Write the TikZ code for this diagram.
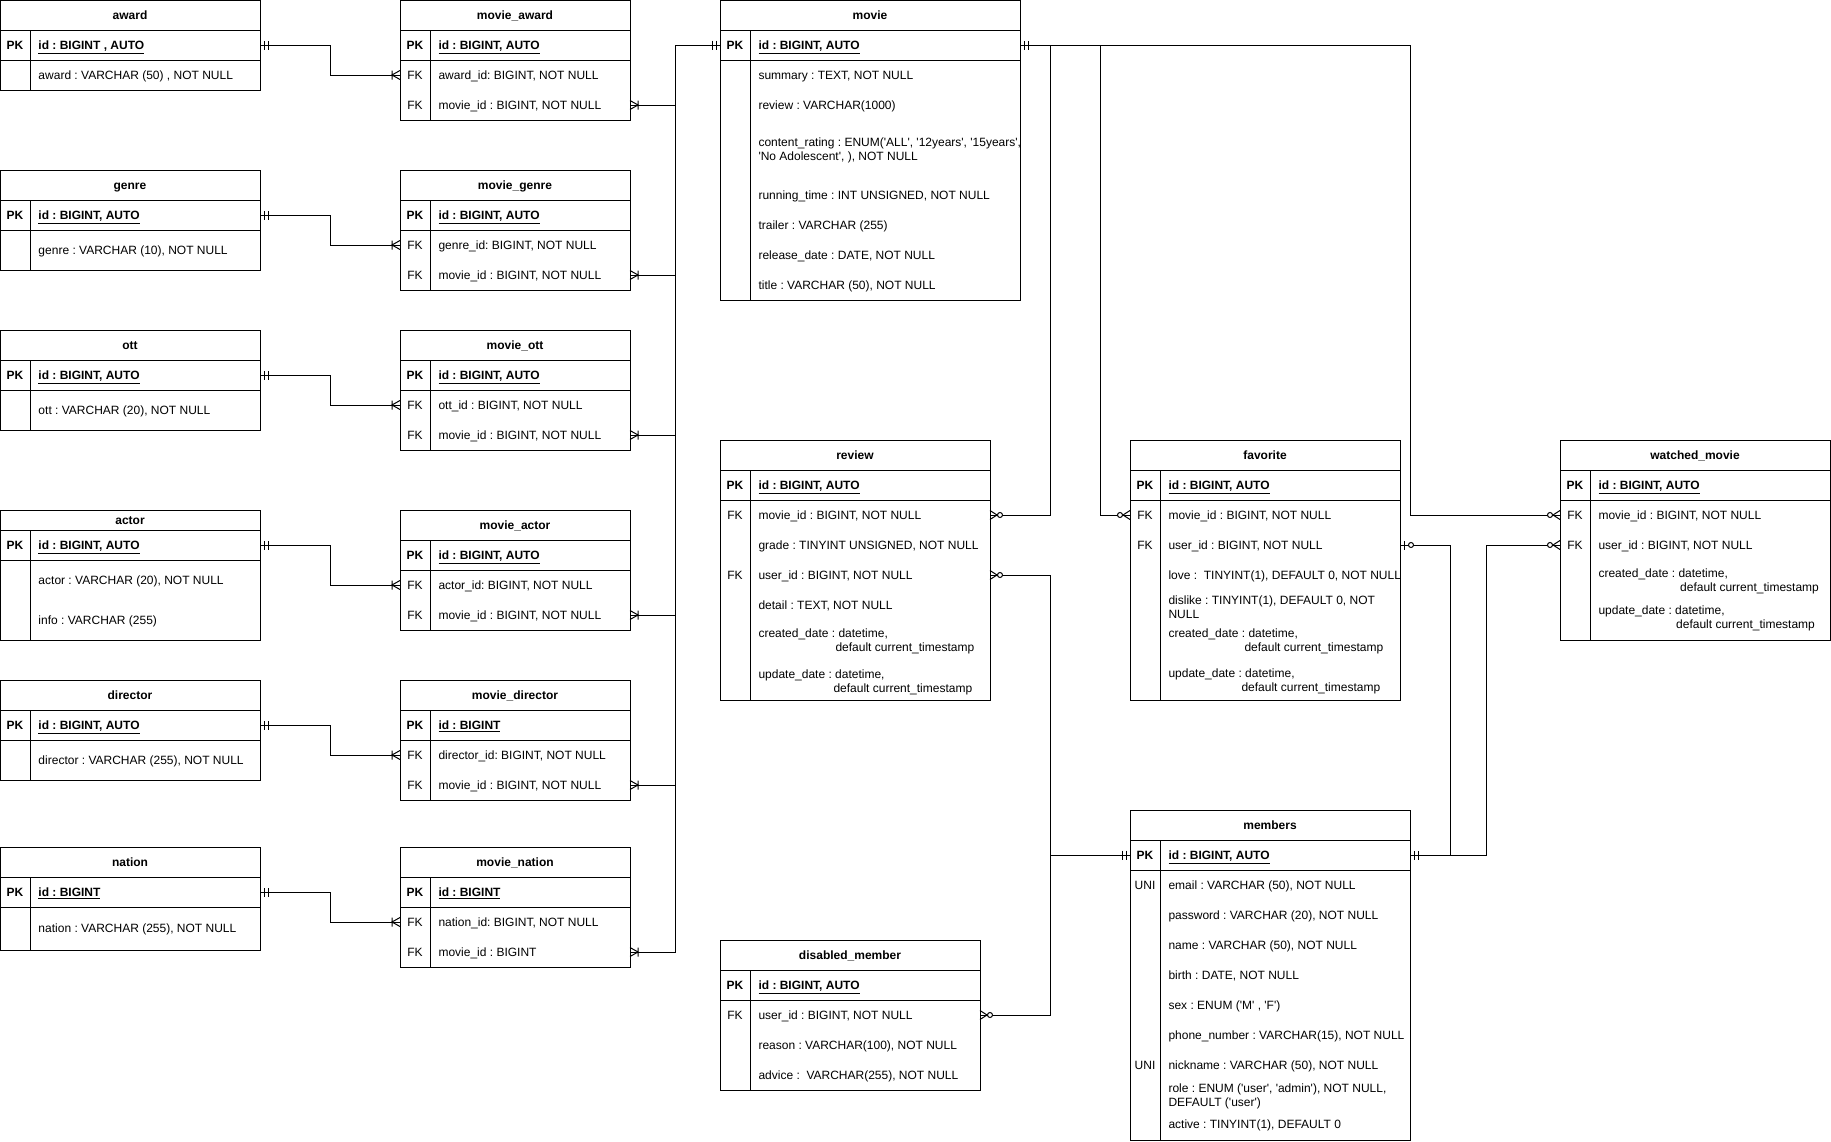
\documentclass[tikz,border=0pt]{standalone}
\usepackage{fontspec}
\newfontfamily\erfont{Liberation Sans}
\usepackage{tikz}
\newcommand{\erfs}{\erfont\fontsize{9}{10.5}\selectfont\frenchspacing}
\tikzset{every picture/.style={line width=0.75pt}}
\tikzset{
  ttl/.style={font=\erfs\bfseries, inner sep=0pt, text height=6.45pt, text depth=0pt},
  key/.style={inner sep=0pt, text height=6.45pt, text depth=0pt},
  fld/.style={anchor=west, inner sep=0pt, text height=6.45pt, text depth=0pt},
  fldm/.style={anchor=west, inner sep=0pt, align=left},
  mandone/.pic={\draw (4,-4.5) -- (4,4.5) (8,-4.5) -- (8,4.5);},
  onemany/.pic={\draw (0,-4.5) -- (8,0) -- (0,4.5) (8,-4.5) -- (8,4.5);},
  zeromany/.pic={\draw (0,-4.5) -- (7,0) -- (0,4.5); \draw [fill=white] (10,0) circle (2.5);},
  zeroone/.pic={\draw (4,-4.5) -- (4,4.5); \draw [fill=white] (11,0) circle (2.5);}
}

\begin{document}
\begin{tikzpicture}[x=0.75pt,y=0.75pt,yscale=-1,xscale=1,font=\erfs]
      \fill [white] (0,0) rectangle (1831,1142);
      \useasboundingbox (0,0) rectangle (1831,1142);
      % left tables
      \draw (0,0) rectangle (260,90);
      \draw (0,30) -- (260,30) (0,60) -- (260,60) (30,30) -- (30,90);
      \draw (0,170) rectangle (260,270);
      \draw (0,200) -- (260,200) (0,230) -- (260,230) (30,200) -- (30,270);
      \draw (0,330) rectangle (260,430);
      \draw (0,360) -- (260,360) (0,390) -- (260,390) (30,360) -- (30,430);
      \draw (0,510) rectangle (260,640);
      \draw (0,530) -- (260,530) (0,560) -- (260,560) (30,530) -- (30,640);
      \draw (0,680) rectangle (260,780);
      \draw (0,710) -- (260,710) (0,740) -- (260,740) (30,710) -- (30,780);
      \draw (0,847) rectangle (260,950);
      \draw (0,877) -- (260,877) (0,907) -- (260,907) (30,877) -- (30,950);
      % join tables
      \draw (400,0) rectangle (630,120);
      \draw (400,30) -- (630,30) (400,60) -- (630,60) (430,30) -- (430,120);
      \draw (400,170) rectangle (630,290);
      \draw (400,200) -- (630,200) (400,230) -- (630,230) (430,200) -- (430,290);
      \draw (400,330) rectangle (630,450);
      \draw (400,360) -- (630,360) (400,390) -- (630,390) (430,360) -- (430,450);
      \draw (400,510) rectangle (630,630);
      \draw (400,540) -- (630,540) (400,570) -- (630,570) (430,540) -- (430,630);
      \draw (400,680) rectangle (630,800);
      \draw (400,710) -- (630,710) (400,740) -- (630,740) (430,710) -- (430,800);
      \draw (400,847) rectangle (630,967);
      \draw (400,877) -- (630,877) (400,907) -- (630,907) (430,877) -- (430,967);
      % movie, review, disabled_member
      \draw (720,0) rectangle (1020,300);
      \draw (720,30) -- (1020,30) (720,60) -- (1020,60) (750,30) -- (750,300);
      \draw (720,440) rectangle (990,700);
      \draw (720,470) -- (990,470) (720,500) -- (990,500) (750,470) -- (750,700);
      \draw (720,940) rectangle (980,1090);
      \draw (720,970) -- (980,970) (720,1000) -- (980,1000) (750,970) -- (750,1090);
      % favorite, members, watched_movie
      \draw (1130,440) rectangle (1400,700);
      \draw (1130,470) -- (1400,470) (1130,500) -- (1400,500) (1160,470) -- (1160,700);
      \draw (1130,810) rectangle (1410,1140);
      \draw (1130,840) -- (1410,840) (1130,870) -- (1410,870) (1160,840) -- (1160,1140);
      \draw (1560,440) rectangle (1830,640);
      \draw (1560,470) -- (1830,470) (1560,500) -- (1830,500) (1590,470) -- (1590,640);

      % connection points
      \coordinate (awardPK) at (260,45);
      \coordinate (maAward) at (400,75);
      \coordinate (maMovie) at (630,105);
      \coordinate (genrePK) at (260,215);
      \coordinate (mgGenre) at (400,245);
      \coordinate (mgMovie) at (630,275);
      \coordinate (ottPK) at (260,375);
      \coordinate (moOtt) at (400,405);
      \coordinate (moMovie) at (630,435);
      \coordinate (actorPK) at (260,545);
      \coordinate (mactActor) at (400,585);
      \coordinate (mactMovie) at (630,615);
      \coordinate (directorPK) at (260,725);
      \coordinate (mdDirector) at (400,755);
      \coordinate (mdMovie) at (630,785);
      \coordinate (nationPK) at (260,892);
      \coordinate (mnNation) at (400,922);
      \coordinate (mnMovie) at (630,952);
      \coordinate (movieL) at (720,45);
      \coordinate (movieR) at (1020,45);
      \coordinate (rvMovie) at (990,515);
      \coordinate (rvUser) at (990,575);
      \coordinate (fvMovie) at (1130,515);
      \coordinate (fvUser) at (1400,545);
      \coordinate (wmMovie) at (1560,515);
      \coordinate (wmUser) at (1560,545);
      \coordinate (mbL) at (1130,855);
      \coordinate (mbR) at (1410,855);
      \coordinate (dmUser) at (980,1015);

      % connectors
      \draw (awardPK) -- ++(70,0) |- (maAward);
      \draw (genrePK) -- ++(70,0) |- (mgGenre);
      \draw (ottPK) -- ++(70,0) |- (moOtt);
      \draw (actorPK) -- ++(70,0) |- (mactActor);
      \draw (directorPK) -- ++(70,0) |- (mdDirector);
      \draw (nationPK) -- ++(70,0) |- (mnNation);
      \draw (maMovie) -- ++(45,0) |- (movieL);
      \draw (mgMovie) -- ++(45,0) |- (movieL);
      \draw (moMovie) -- ++(45,0) |- (movieL);
      \draw (mactMovie) -- ++(45,0) |- (movieL);
      \draw (mdMovie) -- ++(45,0) |- (movieL);
      \draw (mnMovie) -- ++(45,0) |- (movieL);
      \draw (movieR) -- ++(30,0) |- (rvMovie);
      \draw (movieR) -- ++(80,0) |- (fvMovie);
      \draw (movieR) -- ++(390,0) |- (wmMovie);
      \draw (mbL) -- ++(-80,0) |- (rvUser);
      \draw (mbL) -- ++(-80,0) |- (dmUser);
      \draw (mbR) -- ++(40,0) |- (fvUser);
      \draw (mbR) -- ++(76,0) |- (wmUser);

      % end marks
      \pic at (awardPK) {mandone};
      \pic at (genrePK) {mandone};
      \pic at (ottPK) {mandone};
      \pic at (actorPK) {mandone};
      \pic at (directorPK) {mandone};
      \pic at (nationPK) {mandone};
      \pic [rotate=180] at (maAward) {onemany};
      \pic [rotate=180] at (mgGenre) {onemany};
      \pic [rotate=180] at (moOtt) {onemany};
      \pic [rotate=180] at (mactActor) {onemany};
      \pic [rotate=180] at (mdDirector) {onemany};
      \pic [rotate=180] at (mnNation) {onemany};
      \pic at (maMovie) {onemany};
      \pic at (mgMovie) {onemany};
      \pic at (moMovie) {onemany};
      \pic at (mactMovie) {onemany};
      \pic at (mdMovie) {onemany};
      \pic at (mnMovie) {onemany};
      \pic [rotate=180] at (movieL) {mandone};
      \pic at (movieR) {mandone};
      \pic at (rvMovie) {zeromany};
      \pic at (rvUser) {zeromany};
      \pic [rotate=180] at (fvMovie) {zeromany};
      \pic at (fvUser) {zeroone};
      \pic [rotate=180] at (wmMovie) {zeromany};
      \pic [rotate=180] at (wmUser) {zeromany};
      \pic [rotate=180] at (mbL) {mandone};
      \pic at (mbR) {mandone};
      \pic at (dmUser) {zeromany};

      % award
      \node [ttl] (awardT) at (130,15) {award};
      \node [key] (awardK1) at (15,45) {\textbf{PK}};
      \node [fld] (awardF1) at (38,45) {\underline{\textbf{id : BIGINT , AUTO}}};
      \node [fld] (awardF2) at (38,75) {award : VARCHAR (50) , NOT NULL};
      % genre
      \node [ttl] (genreT) at (130,185) {genre};
      \node [key] (genreK1) at (15,215) {\textbf{PK}};
      \node [fld] (genreF1) at (38,215) {\underline{\textbf{id : BIGINT, AUTO}}};
      \node [fld] (genreF2) at (38,250) {genre : VARCHAR (10), NOT NULL};
      % ott
      \node [ttl] (ottT) at (130,345) {ott};
      \node [key] (ottK1) at (15,375) {\textbf{PK}};
      \node [fld] (ottF1) at (38,375) {\underline{\textbf{id : BIGINT, AUTO}}};
      \node [fld] (ottF2) at (38,410) {ott : VARCHAR (20), NOT NULL};
      % actor
      \node [ttl] (actorT) at (130,520) {actor};
      \node [key] (actorK1) at (15,545) {\textbf{PK}};
      \node [fld] (actorF1) at (38,545) {\underline{\textbf{id : BIGINT, AUTO}}};
      \node [fld] (actorF2) at (38,580) {actor : VARCHAR (20), NOT NULL};
      \node [fld] (actorF3) at (38,620) {info : VARCHAR (255)};
      % director
      \node [ttl] (directorT) at (130,695) {director};
      \node [key] (directorK1) at (15,725) {\textbf{PK}};
      \node [fld] (directorF1) at (38,725) {\underline{\textbf{id : BIGINT, AUTO}}};
      \node [fld] (directorF2) at (38,760) {director : VARCHAR (255), NOT NULL};
      % nation
      \node [ttl] (nationT) at (130,862) {nation};
      \node [key] (nationK1) at (15,892) {\textbf{PK}};
      \node [fld] (nationF1) at (38,892) {\underline{\textbf{id : BIGINT}}};
      \node [fld] (nationF2) at (38,928) {nation : VARCHAR (255), NOT NULL};

      % movie_award
      \node [ttl] (maT) at (515,15) {movie\_award};
      \node [key] (maK1) at (415,45) {\textbf{PK}};
      \node [fld] (maF1) at (438,45) {\underline{\textbf{id : BIGINT, AUTO}}};
      \node [key] (maK2) at (415,75) {FK};
      \node [fld] (maF2) at (438,75) {award\_id: BIGINT, NOT NULL};
      \node [key] (maK3) at (415,105) {FK};
      \node [fld] (maF3) at (438,105) {movie\_id : BIGINT, NOT NULL};
      % movie_genre
      \node [ttl] (mgT) at (515,185) {movie\_genre};
      \node [key] (mgK1) at (415,215) {\textbf{PK}};
      \node [fld] (mgF1) at (438,215) {\underline{\textbf{id : BIGINT, AUTO}}};
      \node [key] (mgK2) at (415,245) {FK};
      \node [fld] (mgF2) at (438,245) {genre\_id: BIGINT, NOT NULL};
      \node [key] (mgK3) at (415,275) {FK};
      \node [fld] (mgF3) at (438,275) {movie\_id : BIGINT, NOT NULL};
      % movie_ott
      \node [ttl] (moT) at (515,345) {movie\_ott};
      \node [key] (moK1) at (415,375) {\textbf{PK}};
      \node [fld] (moF1) at (438,375) {\underline{\textbf{id : BIGINT, AUTO}}};
      \node [key] (moK2) at (415,405) {FK};
      \node [fld] (moF2) at (438,405) {ott\_id : BIGINT, NOT NULL};
      \node [key] (moK3) at (415,435) {FK};
      \node [fld] (moF3) at (438,435) {movie\_id : BIGINT, NOT NULL};
      % movie_actor
      \node [ttl] (mactT) at (515,525) {movie\_actor};
      \node [key] (mactK1) at (415,555) {\textbf{PK}};
      \node [fld] (mactF1) at (438,555) {\underline{\textbf{id : BIGINT, AUTO}}};
      \node [key] (mactK2) at (415,585) {FK};
      \node [fld] (mactF2) at (438,585) {actor\_id: BIGINT, NOT NULL};
      \node [key] (mactK3) at (415,615) {FK};
      \node [fld] (mactF3) at (438,615) {movie\_id : BIGINT, NOT NULL};
      % movie_director
      \node [ttl] (mdT) at (515,695) {movie\_director};
      \node [key] (mdK1) at (415,725) {\textbf{PK}};
      \node [fld] (mdF1) at (438,725) {\underline{\textbf{id : BIGINT}}};
      \node [key] (mdK2) at (415,755) {FK};
      \node [fld] (mdF2) at (438,755) {director\_id: BIGINT, NOT NULL};
      \node [key] (mdK3) at (415,785) {FK};
      \node [fld] (mdF3) at (438,785) {movie\_id : BIGINT, NOT NULL};
      % movie_nation
      \node [ttl] (mnT) at (515,862) {movie\_nation};
      \node [key] (mnK1) at (415,892) {\textbf{PK}};
      \node [fld] (mnF1) at (438,892) {\underline{\textbf{id : BIGINT}}};
      \node [key] (mnK2) at (415,922) {FK};
      \node [fld] (mnF2) at (438,922) {nation\_id: BIGINT, NOT NULL};
      \node [key] (mnK3) at (415,952) {FK};
      \node [fld] (mnF3) at (438,952) {movie\_id : BIGINT};

      % movie
      \node [ttl] (movieT) at (870,15) {movie};
      \node [key] (movieK1) at (735,45) {\textbf{PK}};
      \node [fld] (movieF1) at (758,45) {\underline{\textbf{id : BIGINT, AUTO}}};
      \node [fld] (movieF2) at (758,75) {summary : TEXT, NOT NULL};
      \node [fld] (movieF3) at (758,105) {review : VARCHAR(1000)};
      \node [fldm] (movieF4) at (758,150) {content\_rating : ENUM('ALL', '12years', '15years',\\'No Adolescent', ), NOT NULL};
      \node [fld] (movieF5) at (758,195) {running\_time : INT UNSIGNED, NOT NULL};
      \node [fld] (movieF6) at (758,225) {trailer : VARCHAR (255)};
      \node [fld] (movieF7) at (758,255) {release\_date : DATE, NOT NULL};
      \node [fld] (movieF8) at (758,285) {title : VARCHAR (50), NOT NULL};
      % review
      \node [ttl] (reviewT) at (855,455) {review};
      \node [key] (reviewK1) at (735,485) {\textbf{PK}};
      \node [fld] (reviewF1) at (758,485) {\underline{\textbf{id : BIGINT, AUTO}}};
      \node [key] (reviewK2) at (735,515) {FK};
      \node [fld] (reviewF2) at (758,515) {movie\_id : BIGINT, NOT NULL};
      \node [fld] (reviewF3) at (758,545) {grade : TINYINT UNSIGNED, NOT NULL};
      \node [key] (reviewK4) at (735,575) {FK};
      \node [fld] (reviewF4) at (758,575) {user\_id : BIGINT, NOT NULL};
      \node [fld] (reviewF5) at (758,605) {detail : TEXT, NOT NULL};
      \node [fldm] (reviewF6) at (758,641) {created\_date : datetime,\\\hspace*{57.75pt}default current\_timestamp};
      \node [fldm] (reviewF7) at (758,682) {update\_date : datetime,\\\hspace*{56.25pt}default current\_timestamp};
      % disabled_member
      \node [ttl] (dmT) at (850,955) {disabled\_member};
      \node [key] (dmK1) at (735,985) {\textbf{PK}};
      \node [fld] (dmF1) at (758,985) {\underline{\textbf{id : BIGINT, AUTO}}};
      \node [key] (dmK2) at (735,1015) {FK};
      \node [fld] (dmF2) at (758,1015) {user\_id : BIGINT, NOT NULL};
      \node [fld] (dmF3) at (758,1045) {reason : VARCHAR(100), NOT NULL};
      \node [fld] (dmF4) at (758,1075) {advice :\ \ VARCHAR(255), NOT NULL};
      % favorite
      \node [ttl] (favT) at (1265,455) {favorite};
      \node [key] (favK1) at (1145,485) {\textbf{PK}};
      \node [fld] (favF1) at (1168,485) {\underline{\textbf{id : BIGINT, AUTO}}};
      \node [key] (favK2) at (1145,515) {FK};
      \node [fld] (favF2) at (1168,515) {movie\_id : BIGINT, NOT NULL};
      \node [key] (favK3) at (1145,545) {FK};
      \node [fld] (favF3) at (1168,545) {user\_id : BIGINT, NOT NULL};
      \node [fld] (favF4) at (1168,575) {love :\ \ TINYINT(1), DEFAULT 0, NOT NULL};
      \node [fldm] (favF5) at (1168,607) {dislike : TINYINT(1), DEFAULT 0, NOT\\NULL};
      \node [fldm] (favF6) at (1168,641) {created\_date : datetime,\\\hspace*{57pt}default current\_timestamp};
      \node [fldm] (favF7) at (1168,681) {update\_date : datetime,\\\hspace*{54.75pt}default current\_timestamp};
      % watched_movie
      \node [ttl] (wmT) at (1695,455) {watched\_movie};
      \node [key] (wmK1) at (1575,485) {\textbf{PK}};
      \node [fld] (wmF1) at (1598,485) {\underline{\textbf{id : BIGINT, AUTO}}};
      \node [key] (wmK2) at (1575,515) {FK};
      \node [fld] (wmF2) at (1598,515) {movie\_id : BIGINT, NOT NULL};
      \node [key] (wmK3) at (1575,545) {FK};
      \node [fld] (wmF3) at (1598,545) {user\_id : BIGINT, NOT NULL};
      \node [fldm] (wmF4) at (1598,581) {created\_date : datetime,\\\hspace*{61.25pt}default current\_timestamp};
      \node [fldm] (wmF5) at (1598,618) {update\_date : datetime,\\\hspace*{58.25pt}default current\_timestamp};
      % members
      \node [ttl] (mbT) at (1270,825) {members};
      \node [key] (mbK1) at (1145,855) {\textbf{PK}};
      \node [fld] (mbF1) at (1168,855) {\underline{\textbf{id : BIGINT, AUTO}}};
      \node [key] (mbK2) at (1145,885) {UNI};
      \node [fld] (mbF2) at (1168,885) {email : VARCHAR (50), NOT NULL};
      \node [fld] (mbF3) at (1168,915) {password : VARCHAR (20), NOT NULL};
      \node [fld] (mbF4) at (1168,945) {name : VARCHAR (50), NOT NULL};
      \node [fld] (mbF5) at (1168,975) {birth : DATE, NOT NULL};
      \node [fld] (mbF6) at (1168,1005) {sex : ENUM ('M' , 'F')};
      \node [fld] (mbF7) at (1168,1035) {phone\_number : VARCHAR(15), NOT NULL};
      \node [key] (mbK8) at (1145,1065) {UNI};
      \node [fld] (mbF8) at (1168,1065) {nickname : VARCHAR (50), NOT NULL};
      \node [fldm] (mbF9) at (1168,1096) {role : ENUM ('user', 'admin'), NOT NULL,\\DEFAULT ('user')};
      \node [fld] (mbF10) at (1168,1124) {active : TINYINT(1), DEFAULT 0};
\end{tikzpicture}
\end{document}
